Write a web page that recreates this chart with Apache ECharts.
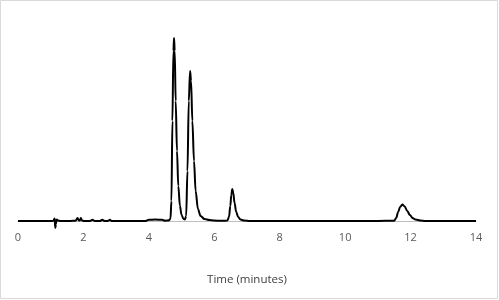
<!DOCTYPE html>
<html>
<head>
<meta charset="utf-8">
<script src="https://cdn.jsdelivr.net/npm/echarts@6/dist/echarts.min.js"></script>
<style>
html,body{margin:0;padding:0;background:#fff;}
#chart{width:499px;height:300px;}
</style>
</head>
<body>
<div id="chart"></div>
<script>
// Chromatogram trace: time (minutes) and detector signal (arbitrary units)
const times = [
  0, 0.5, 1.0, 1.08, 1.12, 1.14, 1.16, 1.18, 1.22, 1.3, 1.6, 1.76, 1.82, 1.86, 1.89, 1.92, 1.96, 2.02, 2.2,
  2.28, 2.33, 2.38, 2.5, 2.58, 2.63, 2.7, 2.76, 2.81, 2.86, 3.0, 3.5, 3.9, 4.0, 4.2, 4.4, 4.5, 4.6,
  4.66, 4.69, 4.72, 4.75, 4.77, 4.79, 4.82, 4.86, 4.9, 4.95, 5.0, 5.06, 5.1, 5.14, 5.18, 5.22, 5.26,
  5.29, 5.33, 5.38, 5.43, 5.5, 5.58, 5.7, 5.85, 6.0, 6.2, 6.4, 6.45, 6.49, 6.52, 6.55, 6.58, 6.62,
  6.67, 6.73, 6.8, 6.9, 7.1, 8, 9, 10, 11, 11.5, 11.56, 11.62, 11.68, 11.75, 11.82, 11.9, 11.98,
  12.06, 12.15, 12.3, 12.45, 13, 14
];
const signal = [
  0, 0, 0, 0.2, 2.5, -7, -3, 1.5, 0.5, 0, 0, 0.3, 3, 0.5, 0.5, 3, 0.5, 0, 0,
  1.2, 0.2, 0, 0, 1.3, 0.2, 0, 0.2, 1.2, 0, 0, 0, 0, 1.2, 1.5, 1.2, 0.3, 0.5,
  2, 20, 100, 170, 183, 170, 120, 70, 35, 15, 6, 2, 1.5, 5, 50, 120, 150,
  140, 100, 60, 30, 12, 5, 2, 1, 0.5, 0.2, 0.5, 4, 15, 26, 32, 28, 18,
  9, 4, 1.5, 0.5, 0, 0, 0, 0, 0, 0.3, 3, 9, 14, 16.5, 14.5, 10, 6,
  3, 1.5, 0.5, 0, 0, 0
];
const xTicks = [0, 2, 4, 6, 8, 10, 12, 14];
const xTitle = 'Time (minutes)';

const trace = times.map((t, i) => [t, signal[i]]);

const chart = echarts.init(document.getElementById('chart'), null, {renderer: 'canvas'});
chart.setOption({
  animation: false,
  backgroundColor: '#fff',
  graphic: [{
    type: 'rect', silent: true, z: -1,
    shape: {x: 0.5, y: 0.5, width: 497, height: 298},
    style: {fill: 'none', stroke: '#d9d9d9', lineWidth: 1}
  }],
  grid: {left: 18, right: 23, top: 21, bottom: 79, containLabel: false},
  xAxis: {
    type: 'value', min: xTicks[0], max: xTicks[xTicks.length - 1], interval: 2,
    name: xTitle, nameLocation: 'middle', nameGap: 53,
    nameTextStyle: {fontFamily: 'Open Sans', fontSize: 11.5, color: '#404040'},
    axisLine: {onZero: false, lineStyle: {color: '#bfbfbf', width: 1}},
    axisTick: {show: false},
    splitLine: {show: false},
    axisLabel: {margin: 11, fontFamily: 'Open Sans', fontSize: 11, color: '#595959'}
  },
  yAxis: {
    type: 'value', min: 0, max: 200, show: false,
    splitLine: {show: false}
  },
  series: [{
    type: 'line', data: trace, showSymbol: false, clip: false,
    smooth: 0.35, smoothMonotone: 'x',
    lineStyle: {color: '#000', width: 2}
  }]
});
</script>
</body>
</html>
